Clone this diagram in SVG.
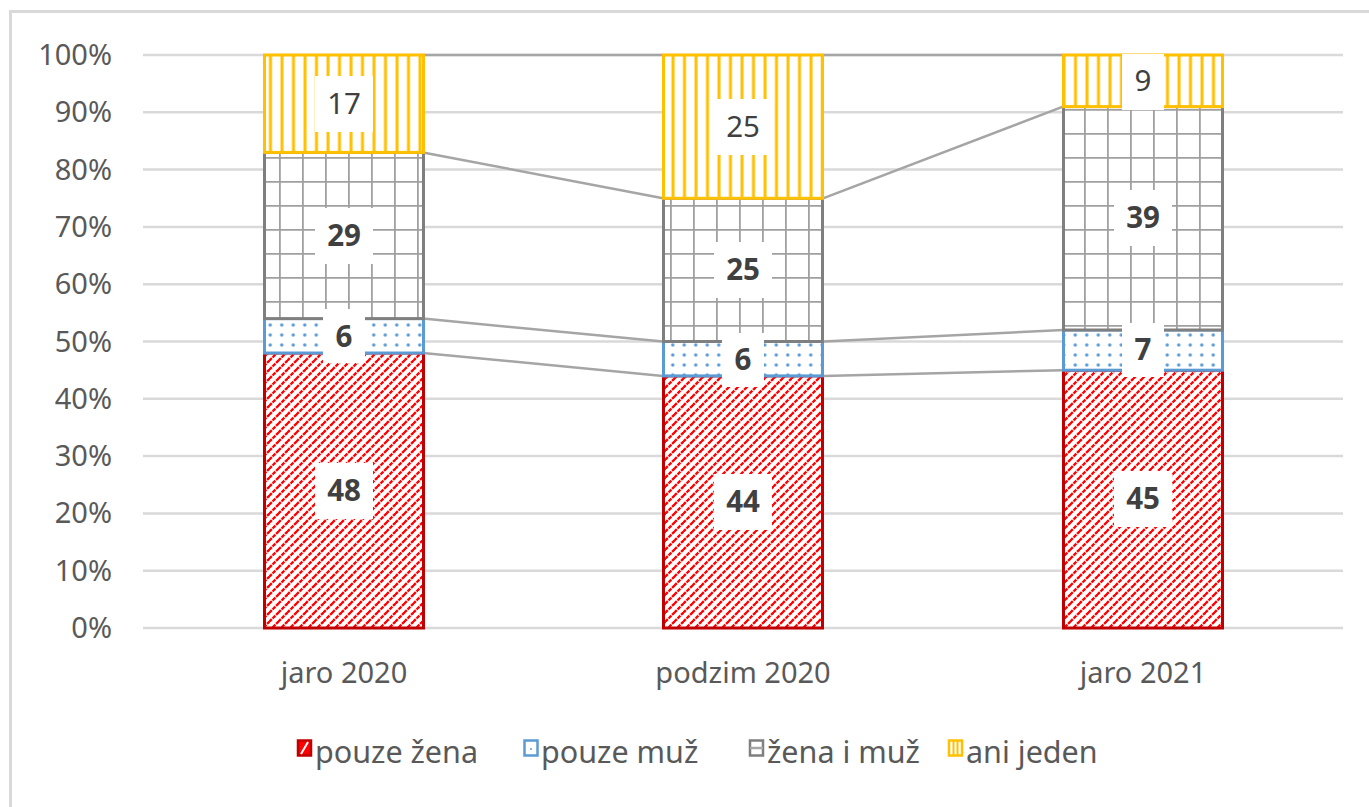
<svg xmlns="http://www.w3.org/2000/svg" width="1369" height="807" viewBox="0 0 1369 807">
<style>
.ax{font-family:"Noto Sans","Liberation Sans",sans-serif;font-size:29px;fill:#595959}
.lg{font-family:"Noto Sans","Liberation Sans",sans-serif;font-size:30.5px;fill:#595959}
.lb{font-family:"Noto Sans","Liberation Sans",sans-serif;font-size:29.5px;fill:#404040;text-anchor:middle}
.b{font-weight:bold}
.grid{stroke:#d9d9d9;stroke-width:2.5}
.ser{stroke:#a5a5a5;stroke-width:2.5;fill:none}
.box{fill:#ffffff}
</style>
<defs>
<pattern id="pRed" patternUnits="userSpaceOnUse" width="9" height="9">
<rect width="9" height="9" fill="#ffffff"/>
<path d="M-1,10 L10,-1 M-4,4 L4,-4 M5,13 L13,5" stroke="#ff0000" stroke-width="2.3" stroke-dasharray="4 1"/>
</pattern>
<pattern id="pBlue" patternUnits="userSpaceOnUse" width="11.5" height="10">
<rect width="11.5" height="10" fill="#ffffff"/>
<circle cx="5.75" cy="5" r="1.7" fill="#5b9bd5"/>
</pattern>
<pattern id="pGray" patternUnits="userSpaceOnUse" width="23" height="24" x="3" y="13">
<rect width="23" height="24" fill="#ffffff"/>
<path d="M0,0 V24 M0,0 H23" stroke="#a0a0a0" stroke-width="3.6"/>
</pattern>
<pattern id="pYel" patternUnits="userSpaceOnUse" width="11.5" height="10" x="3">
<rect width="11.5" height="10" fill="#ffffff"/>
<path d="M3,0 V10" stroke="#ffc000" stroke-width="3"/>
</pattern>
</defs>
<rect x="0" y="0" width="1369" height="807" fill="#ffffff"/>
<rect x="10.5" y="11.5" width="1400" height="900" fill="none" stroke="#d9d9d9" stroke-width="3"/>

<g id="axis">
<path class="grid" d="M143,55H1343M143,112.3H1343M143,169.6H1343M143,226.9H1343M143,284.2H1343M143,341.5H1343M143,398.8H1343M143,456.1H1343M143,513.4H1343M143,570.7H1343M143,628H1343"/>
<g class="ax" text-anchor="end">
<text x="112" y="65">100%</text>
<text x="112" y="122.3">90%</text>
<text x="112" y="179.6">80%</text>
<text x="112" y="236.9">70%</text>
<text x="112" y="294.2">60%</text>
<text x="112" y="351.5">50%</text>
<text x="112" y="408.8">40%</text>
<text x="112" y="466.1">30%</text>
<text x="112" y="523.4">20%</text>
<text x="112" y="580.7">10%</text>
<text x="112" y="638">0%</text>
</g>
<g class="ax" text-anchor="middle">
<text x="344" y="683">jaro 2020</text>
<text x="743" y="683">podzim 2020</text>
<text x="1143" y="683">jaro 2021</text>
</g>
</g>

<g id="connectors">
<path class="ser" d="M423,353 L663,375.9 M823,375.9 L1063,370.2"/>
<path class="ser" d="M423,318.6 L663,341.5 M823,341.5 L1063,330"/>
<path class="ser" d="M423,152.4 L663,198.3 M823,198.3 L1063,106.6"/>
<path class="ser" d="M423,55 L663,55 M823,55 L1063,55"/>
</g>

<g id="bar-jaro-2020">
<rect x="264.5" y="353" width="159" height="275" fill="url(#pRed)" stroke="#c00000" stroke-width="3"/>
<rect x="264.5" y="318.6" width="159" height="34.4" fill="url(#pBlue)" stroke="#5b9bd5" stroke-width="3"/>
<rect x="264.5" y="152.4" width="159" height="166.2" fill="url(#pGray)" stroke="#7f7f7f" stroke-width="3"/>
<rect x="264.5" y="55" width="159" height="97.4" fill="url(#pYel)" stroke="#ffc000" stroke-width="3"/>
</g>
<g id="bar-podzim-2020">
<rect x="663.5" y="375.9" width="159" height="252.1" fill="url(#pRed)" stroke="#c00000" stroke-width="3"/>
<rect x="663.5" y="341.5" width="159" height="34.4" fill="url(#pBlue)" stroke="#5b9bd5" stroke-width="3"/>
<rect x="663.5" y="198.3" width="159" height="143.2" fill="url(#pGray)" stroke="#7f7f7f" stroke-width="3"/>
<rect x="663.5" y="55" width="159" height="143.3" fill="url(#pYel)" stroke="#ffc000" stroke-width="3"/>
</g>
<g id="bar-jaro-2021">
<rect x="1063.5" y="370.2" width="159" height="257.8" fill="url(#pRed)" stroke="#c00000" stroke-width="3"/>
<rect x="1063.5" y="330" width="159" height="40.2" fill="url(#pBlue)" stroke="#5b9bd5" stroke-width="3"/>
<rect x="1063.5" y="106.6" width="159" height="223.4" fill="url(#pGray)" stroke="#7f7f7f" stroke-width="3"/>
<rect x="1063.5" y="55" width="159" height="51.6" fill="url(#pYel)" stroke="#ffc000" stroke-width="3"/>
</g>

<g id="labels">
<rect class="box" x="315" y="463" width="58" height="56"/><text class="lb b" x="344" y="501">48</text>
<rect class="box" x="323" y="309" width="42" height="54"/><text class="lb b" x="344" y="346.5">6</text>
<rect class="box" x="315" y="208" width="58" height="56"/><text class="lb b" x="344" y="246">29</text>
<rect class="box" x="315" y="76" width="58" height="56"/><text class="lb" x="344" y="114">17</text>

<rect class="box" x="714" y="474" width="58" height="56"/><text class="lb b" x="743" y="512">44</text>
<rect class="box" x="722" y="333" width="42" height="54"/><text class="lb b" x="743" y="370">6</text>
<rect class="box" x="714" y="242" width="58" height="56"/><text class="lb b" x="743" y="280">25</text>
<rect class="box" x="714" y="99" width="58" height="56"/><text class="lb" x="743" y="137">25</text>

<rect class="box" x="1114" y="471" width="58" height="56"/><text class="lb b" x="1143" y="509">45</text>
<rect class="box" x="1122" y="323" width="42" height="54"/><text class="lb b" x="1143" y="360">7</text>
<rect class="box" x="1114" y="190" width="58" height="56"/><text class="lb b" x="1143" y="228">39</text>
<rect class="box" x="1122" y="54" width="42" height="56"/><text class="lb" x="1143" y="91">9</text>
</g>

<g id="legend">
<g id="leg-red">
<rect x="298" y="740.5" width="13" height="15" fill="#ff0000" stroke="#c00000" stroke-width="2.5"/>
<path d="M301,754 L308,742" stroke="#ffffff" stroke-width="2"/>
<text class="lg" x="315" y="763">pouze žena</text>
</g>
<g id="leg-blue">
<rect x="524.5" y="740.5" width="13" height="15" fill="#ffffff" stroke="#5b9bd5" stroke-width="2.5"/>
<circle cx="531" cy="749" r="1" fill="#5b9bd5"/>
<text class="lg" x="541" y="763">pouze muž</text>
</g>
<g id="leg-gray">
<rect x="750" y="740.5" width="13" height="15" fill="#ffffff" stroke="#7f7f7f" stroke-width="2.5"/>
<path d="M750,748 H763" stroke="#a6a6a6" stroke-width="2.5"/>
<text class="lg" x="767" y="763">žena i muž</text>
</g>
<g id="leg-yel">
<rect x="949" y="740.5" width="13" height="15" fill="#ffffff" stroke="#ffc000" stroke-width="2.5"/>
<path d="M953.5,741 V755 M957.5,741 V755" stroke="#ffc000" stroke-width="2"/>
<text class="lg" x="966" y="763">ani jeden</text>
</g>
</g>
</svg>
